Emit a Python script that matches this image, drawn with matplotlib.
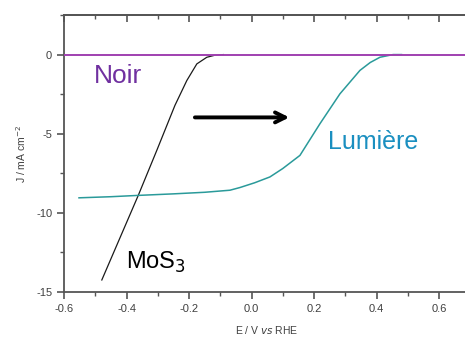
import matplotlib
matplotlib.use("Agg")
import matplotlib.pyplot as plt
from matplotlib.ticker import MultipleLocator

# Data
noir_E = [-0.6, 0.7]
noir_J = [0.0, 0.0]

mos3_E = [-0.479, -0.362, -0.303, -0.245, -0.207, -0.175, -0.143, -0.117, -0.09]
mos3_J = [-14.24, -8.88, -6.05, -3.21, -1.64, -0.59, -0.17, -0.04, 0.0]

lum_E = [-0.552, -0.45, -0.366, -0.25, -0.15, -0.069, -0.037, 0.01, 0.059, 0.1, 0.155, 0.219, 0.283, 0.347, 0.38, 0.411, 0.453, 0.48]
lum_J = [-9.05, -8.98, -8.9, -8.8, -8.7, -8.57, -8.4, -8.1, -7.73, -7.2, -6.37, -4.37, -2.48, -1.0, -0.5, -0.17, 0.0, 0.0]

xticks = [-0.6, -0.4, -0.2, 0.0, 0.2, 0.4, 0.6]
xticklabels = ["-0.6", "-0.4", "-0.2", "0.0", "0.2", "0.4", "0.6"]
yticks = [0, -5, -10, -15]
yticklabels = ["0", "-5", "-10", "-15"]

plt.rcParams['font.family'] = ['Liberation Sans', 'DejaVu Sans']

fig = plt.figure(figsize=(4.65, 3.47), dpi=100)
ax = fig.add_axes([64/465, 55/347, (470.25-64)/465, 277/347])

ax.plot(noir_E, noir_J, color='#a040b0', lw=1.4, zorder=3)
ax.plot(mos3_E, mos3_J, color='#1a1a1a', lw=0.9, zorder=2)
ax.plot(lum_E, lum_J, color='#2a9a9a', lw=1.1, zorder=2)

ax.set_xlim(-0.6, 0.7)
ax.set_ylim(-15, 2.5)

ax.set_xticks(xticks)
ax.set_xticklabels(xticklabels)
ax.set_yticks(yticks)
ax.set_yticklabels(yticklabels)
ax.xaxis.set_minor_locator(MultipleLocator(0.1))
ax.yaxis.set_minor_locator(MultipleLocator(2.5))

for s in ['left', 'bottom', 'top']:
    ax.spines[s].set_color('#555555')
    ax.spines[s].set_linewidth(1.3)
ax.spines['right'].set_visible(False)

ax.tick_params(axis='both', which='both', direction='out', colors='#555555', labelcolor='#404040', labelsize=8)
ax.tick_params(which='major', length=5, width=1.2)
ax.tick_params(which='minor', length=3, width=1.0)
ax.tick_params(axis='x', which='both', top=False)

# top ticks point inward
sec = ax.secondary_xaxis('top')
sec.set_xticks(xticks)
sec.set_xticklabels([])
sec.xaxis.set_minor_locator(MultipleLocator(0.1))
sec.tick_params(which='both', direction='in', colors='#555555')
sec.tick_params(which='major', length=5, width=1.2)
sec.tick_params(which='minor', length=3, width=1.0)
sec.spines['top'].set_color('#555555')
sec.spines['top'].set_linewidth(1.3)

ax.set_xlabel(r"E / V $\it{vs}$ RHE", fontsize=7.5, color='#404040', labelpad=7)
ax.set_ylabel(r"J / mA cm$^{-2}$", fontsize=7.5, color='#404040', labelpad=6)

ax.text(-0.505, -1.35, "Noir", color='#7030a0', fontsize=19, ha='left', va='center')
ax.text(0.245, -5.55, "Lumière", color='#1a8fc0', fontsize=18, ha='left', va='center')
ax.text(-0.4, -13.15, r"MoS$_3$", color='black', fontsize=17, ha='left', va='center')

ax.annotate("", xy=(0.13, -3.97), xytext=(-0.19, -3.97),
            arrowprops=dict(arrowstyle='->', color='black', lw=2.8, mutation_scale=18))

fig.savefig("out.png", dpi=100)
